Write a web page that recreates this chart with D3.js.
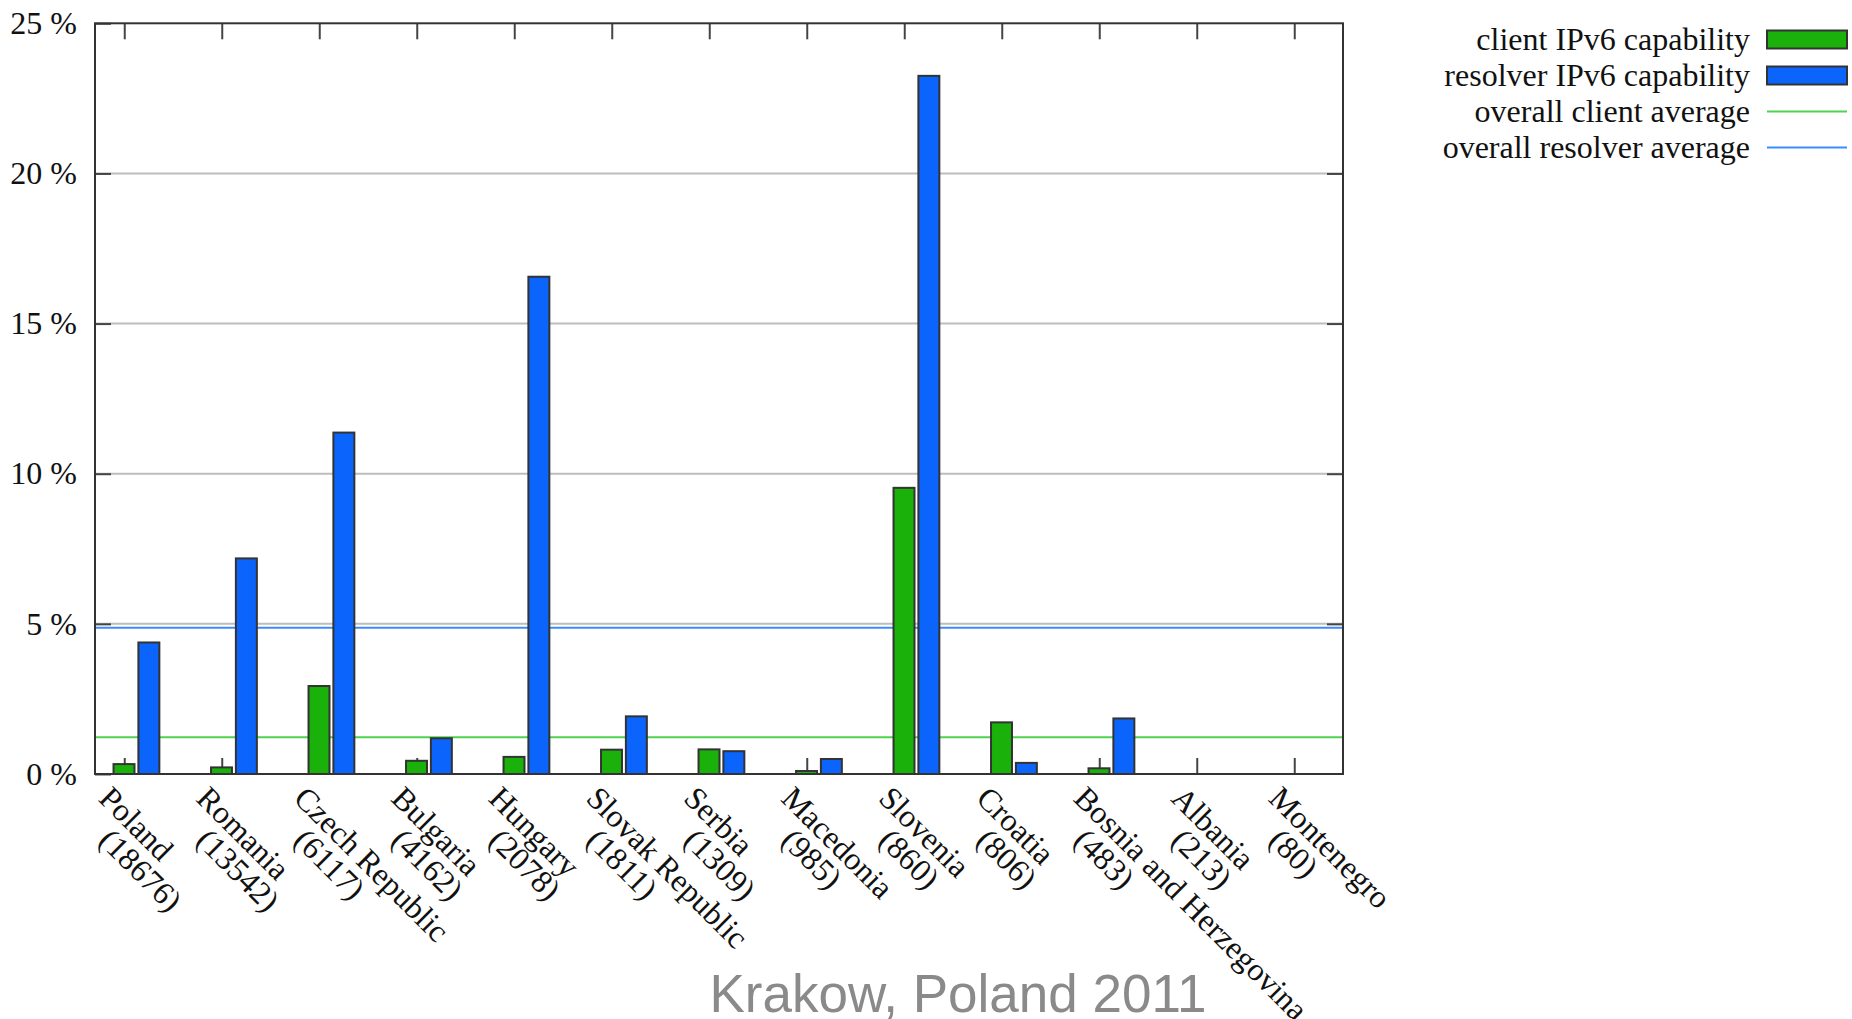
<!DOCTYPE html>
<html>
<head>
<meta charset="utf-8">
<script src="https://cdn.jsdelivr.net/npm/d3@7"></script>
<style>
body { margin: 0; background: #fff; }
svg text { font-family: "Liberation Serif", "Times New Roman", serif; fill: #111; }
</style>
</head>
<body>
<div id="chart"></div>
<script>
var countries = ["Poland", "Romania", "Czech Republic", "Bulgaria", "Hungary", "Slovak Republic", "Serbia", "Macedonia", "Slovenia", "Croatia", "Bosnia and Herzegovina", "Albania", "Montenegro"];
var samples = [18676, 13542, 6117, 4162, 2078, 1811, 1309, 985, 860, 806, 483, 213, 80];
var clientValues = [0.33, 0.22, 2.93, 0.44, 0.57, 0.81, 0.82, 0.10, 9.53, 1.72, 0.19, 0, 0];
var resolverValues = [4.38, 7.18, 11.37, 1.19, 16.56, 1.92, 0.76, 0.50, 23.25, 0.37, 1.85, 0, 0];
var clientAverage = 1.22;
var resolverAverage = 4.87;
var yTicks = [0, 5, 10, 15, 20, 25];
var legendLabels = ["client IPv6 capability", "resolver IPv6 capability", "overall client average", "overall resolver average"];
var footerText = "Krakow, Poland 2011";

var width = 1852;
var height = 1019;
var green = "#1ab20a";
var blue = "#0b64fb";
var greenLine = "#4fd24f";
var blueLine = "#3d8cff";

var svg = d3.select("#chart").append("svg")
	.attr("width", width)
	.attr("height", height);

var x = d3.scaleLinear().domain([-0.3, 12.5]).range([95, 1343]);
var y = d3.scaleLinear().domain([0, 25]).range([774, 23.3]);

// grid
svg.append("g").selectAll("line")
	.data([5, 10, 15, 20])
	.enter()
	.append("line")
	.attr("x1", x(-0.3)).attr("x2", x(12.5))
	.attr("y1", function (d) { return y(d); })
	.attr("y2", function (d) { return y(d); })
	.style("stroke", "#bdbdbd")
	.style("stroke-width", 2);

// axes, ticks pointing inward
function styleAxis(g) {
	g.select(".domain").remove();
	g.selectAll(".tick line").style("stroke", "#444").style("stroke-width", 2);
	g.selectAll(".tick text")
		.style("font-family", "'Liberation Serif', serif")
		.style("font-size", "32px")
		.style("fill", "#111");
}

var idx = d3.range(countries.length);

svg.append("g")
	.attr("transform", "translate(" + x(-0.3) + ",0)")
	.call(d3.axisLeft(y).tickValues(yTicks).tickSizeInner(-16).tickSizeOuter(0).tickPadding(18)
		.tickFormat(function (d) { return d + " %"; }))
	.call(styleAxis);

svg.append("g")
	.attr("transform", "translate(" + x(12.5) + ",0)")
	.call(d3.axisRight(y).tickValues(yTicks.slice(1, 5)).tickSizeInner(-16).tickSizeOuter(0).tickFormat(""))
	.call(styleAxis);

svg.append("g")
	.attr("transform", "translate(0," + y(25) + ")")
	.call(d3.axisTop(x).tickValues(idx).tickSizeInner(-16).tickSizeOuter(0).tickFormat(""))
	.call(styleAxis);

svg.append("g")
	.attr("transform", "translate(0," + y(0) + ")")
	.call(d3.axisBottom(x).tickValues(idx).tickSizeInner(-16).tickSizeOuter(0).tickFormat(""))
	.call(styleAxis);

// averages
svg.append("line")
	.attr("x1", x(-0.3)).attr("x2", x(12.5))
	.attr("y1", y(resolverAverage)).attr("y2", y(resolverAverage))
	.style("stroke", blueLine).style("stroke-width", 2);
svg.append("line")
	.attr("x1", x(-0.3)).attr("x2", x(12.5))
	.attr("y1", y(clientAverage)).attr("y2", y(clientAverage))
	.style("stroke", greenLine).style("stroke-width", 2);

// bars
function addBars(values, offset, color) {
	svg.append("g").selectAll("rect")
		.data(values.map(function (v, i) { return {i: i, v: v}; }).filter(function (d) { return d.v > 0; }))
		.enter()
		.append("rect")
		.attr("x", function (d) { return x(d.i + offset); })
		.attr("y", function (d) { return y(d.v); })
		.attr("width", x(0.215) - x(0))
		.attr("height", function (d) { return y(0) - y(d.v); })
		.style("fill", color)
		.style("stroke", "#333")
		.style("stroke-width", 2);
}
addBars(clientValues, -0.11, green);
addBars(resolverValues, 0.145, blue);

// frame
svg.append("rect")
	.attr("x", x(-0.3)).attr("y", y(25))
	.attr("width", x(12.5) - x(-0.3))
	.attr("height", y(0) - y(25))
	.style("fill", "none")
	.style("stroke", "#333")
	.style("stroke-width", 2);

// rotated category labels
var labels = svg.append("g").selectAll("g")
	.data(idx)
	.enter()
	.append("g");
labels.append("text")
	.attr("transform", function (i) { return "translate(" + (x(i) - 27) + ",800) rotate(45)"; })
	.style("font-size", "32px")
	.text(function (i) { return countries[i]; });
labels.append("text")
	.attr("transform", function (i) { return "translate(" + (x(i) - 27) + ",842) rotate(45)"; })
	.style("font-size", "32px")
	.text(function (i) { return "(" + samples[i] + ")"; });

// legend
var legend = svg.append("g");
var rowY = [39.5, 75.5, 111.5, 147.5];
legend.selectAll("text")
	.data(legendLabels)
	.enter()
	.append("text")
	.attr("x", 1750)
	.attr("y", function (d, i) { return rowY[i]; })
	.attr("dy", "0.33em")
	.attr("text-anchor", "end")
	.style("font-size", "32px")
	.text(function (d) { return d; });
legend.selectAll("rect")
	.data([green, blue])
	.enter()
	.append("rect")
	.attr("x", 1767).attr("width", 80)
	.attr("y", function (d, i) { return rowY[i] - 9; })
	.attr("height", 18)
	.style("fill", function (d) { return d; })
	.style("stroke", "#333")
	.style("stroke-width", 2);
legend.selectAll("line")
	.data([greenLine, blueLine])
	.enter()
	.append("line")
	.attr("x1", 1767).attr("x2", 1847)
	.attr("y1", function (d, i) { return rowY[i + 2]; })
	.attr("y2", function (d, i) { return rowY[i + 2]; })
	.style("stroke", function (d) { return d; })
	.style("stroke-width", 2);

// footer
svg.append("text")
	.attr("x", 958)
	.attr("y", 1012)
	.attr("text-anchor", "middle")
	.style("font-family", "'Liberation Sans', Arial, sans-serif")
	.style("font-size", "53px")
	.style("fill", "#8a8a8a")
	.text(footerText);
</script>
</body>
</html>
